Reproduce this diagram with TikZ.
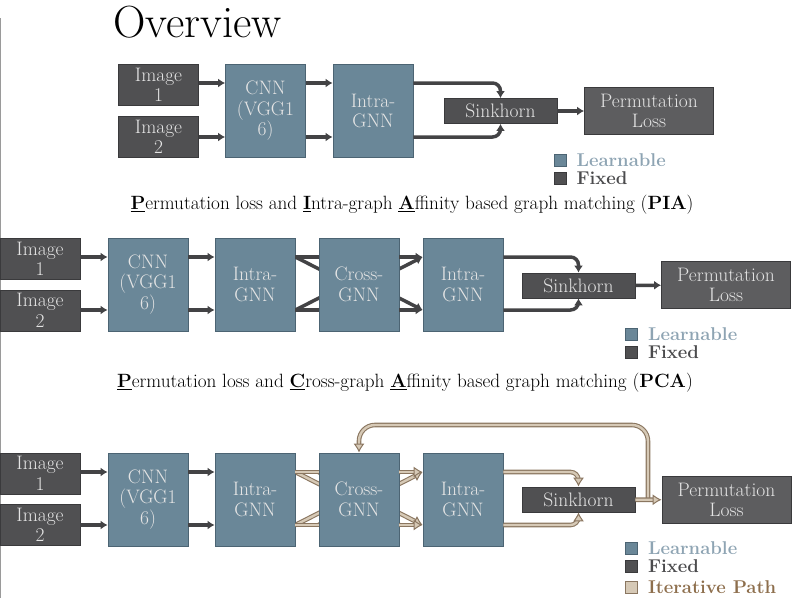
\documentclass[tikz,border=0pt]{standalone}
\usepackage{fontspec}
\usepackage{tikz}
\usetikzlibrary{arrows.meta,positioning,backgrounds,calc}

\definecolor{fixedfill}{HTML}{505052}
\definecolor{lossfill}{HTML}{5D5D5F}
\definecolor{fixedline}{HTML}{3A3A3C}
\definecolor{learnfill}{HTML}{6A8798}
\definecolor{learnline}{HTML}{4C6473}
\definecolor{boxtext}{HTML}{E4E4E4}
\definecolor{arrowgray}{HTML}{434345}
\definecolor{iterdark}{HTML}{8A7660}
\definecolor{iterlight}{HTML}{D6C9B6}
\definecolor{learntext}{HTML}{8EA4B3}
\definecolor{fixedtext}{HTML}{4B4B4D}
\definecolor{itertext}{HTML}{8D6E4C}
\definecolor{framegray}{HTML}{9A9A9A}

\newcommand\boxfont{\fontsize{19.5}{20.5}\selectfont}
\newcommand\keyfont{\fontsize{18.5}{20}\selectfont\bfseries}
\newcommand\capfont{\fontsize{19.2}{20}\selectfont}
\newcommand\titlefont{\fontsize{45}{50}\selectfont}
\newcommand\ul[1]{\underline{\textbf{#1}}}

\tikzset{
  fixedbox/.style={draw=fixedline, fill=fixedfill, text=boxtext, font=\boxfont,
    align=center, inner sep=0pt, line width=0.8pt},
  learnbox/.style={fixedbox, draw=learnline, fill=learnfill,
    minimum width=80pt, minimum height=93pt},
  imgbox/.style={fixedbox, minimum width=80pt, minimum height=41pt},
  sinkbox/.style={fixedbox, minimum width=113pt, minimum height=25pt},
  lossbox/.style={fixedbox, fill=lossfill, minimum width=129pt, minimum height=47pt},
  link/.style={color=arrowgray, line width=3.5pt},
  flow/.style={link, -{Latex[length=7pt,width=9pt]}},
  iterlink/.style={draw=iterdark, line width=1.1pt, double=iterlight, double distance=2.4pt},
  iter/.style={iterlink, -{Latex[length=9pt,width=11pt,fill=iterlight,line width=1pt]}},
  keysq/.style={minimum size=12pt, inner sep=0pt, line width=0.8pt},
  keytext/.style={anchor=west, font=\keyfont, inner sep=0pt},
}

\begin{document}
\begin{tikzpicture}[x=1pt, y=-1pt]
\useasboundingbox (0,0) rectangle (796,598);
\draw[framegray, line width=1.2pt] (0.6,18) -- (0.6,598);

\node[font=\titlefont, anchor=base] (title) at (197.5,37.5) {Overview};

% PIA
\coordinate (rowA1) at (0,83);
\coordinate (rowA2) at (0,137);
\node[imgbox] (imgA1) at (158.5,85) {Image\\1};
\node[imgbox] (imgA2) at (158.5,137) {Image\\2};
\node[learnbox] (cnnA) at (265.5,111) {CNN\\(VGG1\\6)};
\node[learnbox] (intraA) at (373,111) {Intra-\\GNN};
\node[sinkbox] (sinkA) at (500.5,111) {Sinkhorn};
\node[lossbox] (lossA) at (649,111) {Permutation\\Loss};
\path[flow]
  (imgA1.east |- rowA1) edge (cnnA.west |- rowA1)
  (imgA2.east |- rowA2) edge (cnnA.west |- rowA2)
  (cnnA.east |- rowA1) edge (intraA.west |- rowA1)
  (cnnA.east |- rowA2) edge (intraA.west |- rowA2)
  (sinkA) edge (lossA);
\draw[flow, rounded corners=8pt] (intraA.east |- rowA1) -| (sinkA.north);
\draw[flow, rounded corners=8pt] (intraA.east |- rowA2) -| (sinkA.south);
\node[keysq, draw=learnline, fill=learnfill] (keyA1) at (560,160.5) {};
\node[keysq, draw=fixedline, fill=fixedfill] (keyA2) at (560,178.5) {};
\node[keytext, text=learntext, right=10pt of keyA1] (keyA1t) {Learnable};
\node[keytext, text=fixedtext, right=10pt of keyA2] (keyA2t) {Fixed};
\node[font=\capfont] (capA) at (412,205)
  {\ul{P}ermutation loss and \ul{I}ntra-graph \ul{A}ffinity based graph matching (\textbf{PIA})};

% PCA
\coordinate (rowB1) at (0,257);
\coordinate (rowB2) at (0,310);
\node[imgbox] (imgB1) at (40,259) {Image\\1};
\node[imgbox] (imgB2) at (40,310.5) {Image\\2};
\node[learnbox] (cnnB) at (148,284.5) {CNN\\(VGG1\\6)};
\node[learnbox] (intraB1) at (255,284.5) {Intra-\\GNN};
\node[learnbox] (crossB) at (359,284.5) {Cross-\\GNN};
\node[learnbox] (intraB2) at (463,284.5) {Intra-\\GNN};
\node[sinkbox] (sinkB) at (578.5,285.5) {Sinkhorn};
\node[lossbox] (lossB) at (726,285) {Permutation\\Loss};
\path[flow]
  (imgB1.east |- rowB1) edge (cnnB.west |- rowB1)
  (imgB2.east |- rowB2) edge (cnnB.west |- rowB2)
  (cnnB.east |- rowB1) edge (intraB1.west |- rowB1)
  (cnnB.east |- rowB2) edge (intraB1.west |- rowB2)
  (crossB.east |- rowB1) edge (intraB2.west |- rowB1)
  (crossB.east |- rowB2) edge (intraB2.west |- rowB2)
  (sinkB) edge (lossB);
\path[link]
  (intraB1.east |- rowB1) edge (crossB.west |- rowB1)
  (intraB1.east |- rowB2) edge (crossB.west |- rowB2);
\begin{scope}[on background layer]
  \path[link]
    (intraB1.east |- rowB1) edge (crossB.east |- rowB2)
    (intraB1.east |- rowB2) edge (crossB.east |- rowB1);
  \path[flow]
    (crossB.west |- rowB2) edge (intraB2.west |- rowB1)
    (crossB.west |- rowB1) edge (intraB2.west |- rowB2);
\end{scope}
\draw[flow, rounded corners=8pt] (intraB2.east |- rowB1) -| (sinkB.north);
\draw[flow, rounded corners=8pt] (intraB2.east |- rowB2) -| (sinkB.south);
\node[keysq, draw=learnline, fill=learnfill] (keyB1) at (631.5,334.5) {};
\node[keysq, draw=fixedline, fill=fixedfill] (keyB2) at (631.5,352.5) {};
\node[keytext, text=learntext, right=10pt of keyB1] (keyB1t) {Learnable};
\node[keytext, text=fixedtext, right=10pt of keyB2] (keyB2t) {Fixed};
\node[font=\capfont] (capB) at (405,383)
  {\ul{P}ermutation loss and \ul{C}ross-graph \ul{A}ffinity based graph matching (\textbf{PCA})};

% PCA with iteration
\coordinate (rowC1) at (0,472);
\coordinate (rowC2) at (0,525);
\coordinate (topC) at (0,425);
\node[imgbox] (imgC1) at (40,473.5) {Image\\1};
\node[imgbox] (imgC2) at (40,525) {Image\\2};
\node[learnbox] (cnnC) at (148,499.5) {CNN\\(VGG1\\6)};
\node[learnbox] (intraC1) at (255,499.5) {Intra-\\GNN};
\node[learnbox] (crossC) at (359,499.5) {Cross-\\GNN};
\node[learnbox] (intraC2) at (463,499.5) {Intra-\\GNN};
\node[sinkbox] (sinkC) at (578.5,499.5) {Sinkhorn};
\node[lossbox] (lossC) at (726.5,500) {Permutation\\Loss};
\coordinate (loopC) at ($(sinkC.east)!0.48!(lossC.west)$);
\path[flow]
  (imgC1.east |- rowC1) edge (cnnC.west |- rowC1)
  (imgC2.east |- rowC2) edge (cnnC.west |- rowC2)
  (cnnC.east |- rowC1) edge (intraC1.west |- rowC1)
  (cnnC.east |- rowC2) edge (intraC1.west |- rowC2);
\path
  (intraC1.east |- rowC1) edge[iterlink] (crossC.west |- rowC1)
  (intraC1.east |- rowC2) edge[iterlink] (crossC.west |- rowC2)
  (crossC.east |- rowC1) edge[iter] (intraC2.west |- rowC1)
  (crossC.east |- rowC2) edge[iter] (intraC2.west |- rowC2);
\begin{scope}[on background layer]
  \path
    (intraC1.east |- rowC1) edge[iterlink] (crossC.east |- rowC2)
    (intraC1.east |- rowC2) edge[iterlink] (crossC.east |- rowC1)
    (crossC.west |- rowC2) edge[iter] (intraC2.west |- rowC1)
    (crossC.west |- rowC1) edge[iter] (intraC2.west |- rowC2);
\end{scope}
\draw[iter, rounded corners=8pt] (intraC2.east |- rowC1) -| (sinkC.north);
\draw[iter, rounded corners=8pt] (intraC2.east |- rowC2) -| (sinkC.south);
\draw[iter, rounded corners=16pt] (loopC) |- (crossC.north |- topC) -- (crossC.north);
\draw[iter] (sinkC) -- (lossC);
\node[keysq, draw=learnline, fill=learnfill] (keyC1) at (631.5,548) {};
\node[keysq, draw=fixedline, fill=fixedfill] (keyC2) at (631.5,566.5) {};
\node[keysq, draw=iterdark, fill=iterlight] (keyC3) at (631.5,587) {};
\node[keytext, text=learntext, right=10pt of keyC1] (keyC1t) {Learnable};
\node[keytext, text=fixedtext, right=10pt of keyC2] (keyC2t) {Fixed};
\node[keytext, text=itertext, right=10pt of keyC3] (keyC3t) {Iterative Path};
\end{tikzpicture}
\end{document}
